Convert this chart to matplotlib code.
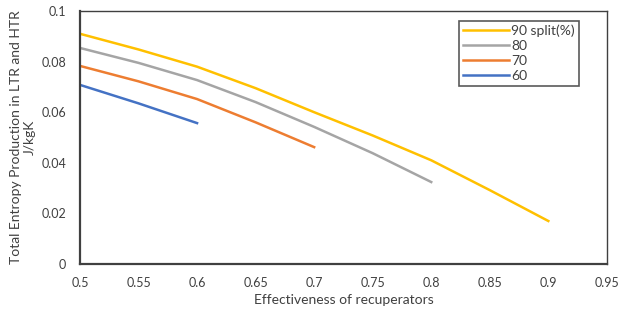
import matplotlib
matplotlib.use("Agg")
import matplotlib.pyplot as plt

plt.rcParams['font.family'] = ['Lato', 'DejaVu Sans']

x90 = [0.5, 0.55, 0.6, 0.65, 0.7, 0.75, 0.8, 0.85, 0.9]
y90 = [0.091, 0.0848, 0.078, 0.0695, 0.060, 0.0508, 0.041, 0.0292, 0.017]
x80 = [0.5, 0.55, 0.6, 0.65, 0.7, 0.75, 0.8]
y80 = [0.0854, 0.0795, 0.0727, 0.0640, 0.0542, 0.0438, 0.0324]
x70 = [0.5, 0.55, 0.6, 0.65, 0.7]
y70 = [0.0783, 0.0722, 0.0652, 0.0560, 0.0462]
x60 = [0.5, 0.55, 0.6]
y60 = [0.0708, 0.0635, 0.0557]

labels = ["90 split(%)", "80", "70", "60"]
colors = ["#FFC000", "#A5A5A5", "#ED7D31", "#4472C4"]
xticks = [0.5, 0.55, 0.6, 0.65, 0.7, 0.75, 0.8, 0.85, 0.9, 0.95]
yticks = [0, 0.02, 0.04, 0.06, 0.08, 0.1]

fig = plt.figure(figsize=(6.18, 3.12), dpi=100)
ax = fig.add_axes([0.1294, 0.1538, 0.8526, 0.8109])
for xs, ys, lab, c in zip([x90, x80, x70, x60], [y90, y80, y70, y60], labels, colors):
    ax.plot(xs, ys, color=c, lw=1.8, label=lab)

ax.set_xlim(0.5, 0.95)
ax.set_ylim(0, 0.1)
ax.set_xticks(xticks)
ax.set_xticklabels([f"{v:g}" for v in xticks])
ax.set_yticks(yticks)
ax.set_yticklabels([f"{v:g}" for v in yticks])
ax.tick_params(length=0, labelsize=9, colors="#404040")
ax.tick_params(axis='x', pad=9)
ax.tick_params(axis='y', pad=10)
for s in ax.spines.values():
    s.set_color("#404040")
    s.set_linewidth(1.0)
ax.spines['left'].set_linewidth(1.6)
ax.spines['bottom'].set_linewidth(1.6)
ax.set_xlabel("Effectiveness of recuperators", fontsize=10, color="#404040", labelpad=4)
ax.set_ylabel("Total Entropy Production in LTR and HTR\nJ/kgK", fontsize=10, color="#404040", labelpad=4)

leg = ax.legend(loc="upper right", bbox_to_anchor=(0.947, 0.962), fontsize=10, frameon=True,
                fancybox=False, edgecolor="#303030", handlelength=3.3, handletextpad=0.15,
                borderpad=0.3, labelspacing=0.2, borderaxespad=0)
leg.get_frame().set_linewidth(1.2)
for t in leg.get_texts():
    t.set_color("#404040")

fig.savefig("out.png", dpi=100)
